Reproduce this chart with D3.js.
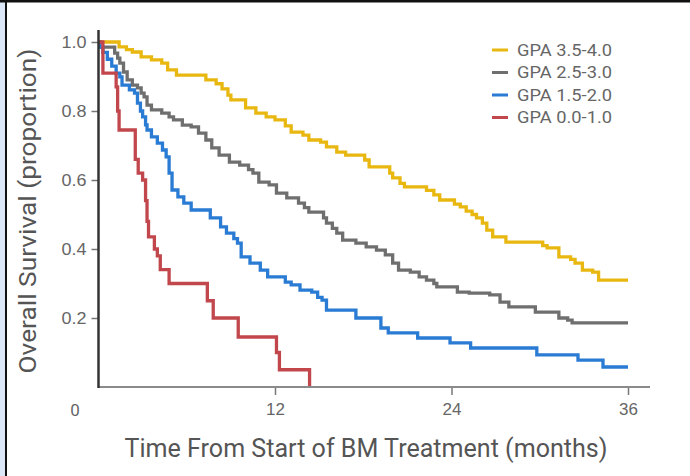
<!DOCTYPE html>
<html>
<head>
<meta charset="utf-8">
<script src="https://cdn.jsdelivr.net/npm/d3@7"></script>
<style>
  html, body { margin: 0; padding: 0; background: #fff; }
  svg { display: block; font-family: Roboto, "Liberation Sans", sans-serif; }
</style>
</head>
<body>
<div id="chart"></div>
<script>
// Kaplan-Meier curves: [month, survival after step]
const gpa35to40 = [[0,1.0],[1.4,0.986],[1.9,0.978],[2.3,0.971],[2.9,0.957],[3.6,0.948],[4.3,0.939],[4.7,0.919],[5.3,0.904],[7.3,0.89],[8.0,0.879],[8.4,0.864],[8.8,0.846],[9.0,0.832],[10.0,0.809],[10.7,0.794],[11.4,0.783],[12.0,0.774],[12.7,0.757],[13.1,0.739],[13.9,0.73],[14.3,0.716],[15.1,0.71],[15.5,0.696],[16.2,0.681],[16.8,0.672],[18.1,0.658],[18.4,0.638],[19.8,0.62],[20.0,0.606],[20.5,0.59],[20.8,0.58],[22.3,0.57],[22.8,0.557],[23.2,0.542],[24.2,0.53],[24.6,0.522],[25.0,0.51],[25.4,0.5],[25.7,0.49],[26.1,0.475],[26.4,0.455],[26.8,0.435],[27.7,0.42],[30.2,0.41],[30.5,0.403],[31.3,0.377],[32.1,0.37],[32.4,0.359],[32.9,0.339],[33.6,0.333],[34.0,0.31],[36,0.31]];
const gpa25to30 = [[0,0.985],[1.1,0.968],[1.3,0.953],[1.45,0.939],[1.7,0.913],[1.95,0.89],[2.3,0.875],[2.65,0.867],[2.9,0.852],[3.1,0.841],[3.3,0.817],[3.6,0.803],[4.3,0.794],[4.8,0.783],[5.1,0.774],[5.7,0.759],[6.3,0.754],[6.8,0.736],[7.3,0.716],[7.7,0.693],[8.2,0.672],[8.9,0.652],[9.6,0.643],[10.2,0.63],[10.5,0.62],[10.9,0.594],[11.6,0.586],[12.1,0.562],[12.8,0.548],[13.6,0.533],[14.0,0.52],[14.3,0.507],[15.3,0.49],[15.5,0.475],[15.9,0.46],[16.2,0.446],[16.6,0.426],[17.5,0.417],[18.2,0.406],[18.9,0.397],[19.5,0.383],[20.0,0.359],[20.4,0.339],[21.2,0.333],[21.8,0.319],[22.3,0.31],[22.8,0.3],[23.0,0.29],[24.4,0.275],[25.2,0.272],[26.6,0.267],[27.3,0.246],[27.9,0.232],[29.7,0.217],[31.3,0.2],[31.9,0.194],[32.2,0.186],[36,0.186]];
const gpa15to20 = [[0,1.0],[0.1,0.985],[0.3,0.97],[0.6,0.95],[0.9,0.93],[1.2,0.91],[1.45,0.899],[1.6,0.875],[2.1,0.861],[2.45,0.852],[2.65,0.823],[2.85,0.8],[3.0,0.783],[3.2,0.76],[3.3,0.745],[3.6,0.725],[4.0,0.707],[4.35,0.687],[4.6,0.667],[4.8,0.62],[5.0,0.571],[5.4,0.551],[5.8,0.533],[6.3,0.513],[7.6,0.49],[8.3,0.464],[8.7,0.446],[9.2,0.43],[9.45,0.417],[9.7,0.377],[10.3,0.359],[11.0,0.339],[11.5,0.319],[12.7,0.304],[13.1,0.296],[13.7,0.281],[14.5,0.275],[14.9,0.26],[15.2,0.252],[15.5,0.223],[17.5,0.2],[19.2,0.171],[19.7,0.157],[21.7,0.142],[23.9,0.128],[25.3,0.113],[29.8,0.093],[32.6,0.078],[34.3,0.058],[36,0.058]];
const gpa00to10 = [[0,1.0],[0.3,0.91],[1.2,0.87],[1.3,0.8],[1.4,0.745],[2.5,0.66],[2.7,0.62],[3.0,0.6],[3.2,0.54],[3.3,0.48],[3.4,0.435],[3.8,0.4],[4.0,0.38],[4.2,0.34],[4.8,0.3],[7.4,0.25],[7.8,0.2],[9.5,0.145],[12.1,0.1],[12.3,0.05],[14.35,0.0]];

const seriesNames = ['GPA 3.5-4.0', 'GPA 2.5-3.0', 'GPA 1.5-2.0', 'GPA 0.0-1.0'];
const seriesData = [gpa35to40, gpa25to30, gpa15to20, gpa00to10];
const seriesColors = ['#e8b710', '#6f6f6f', '#2a7bd3', '#c2474c'];

const xTicks = [12, 24, 36];
const yTicks = [0.2, 0.4, 0.6, 0.8, 1.0];

const width = 690, height = 476;
const svg = d3.select('#chart').append('svg').attr('width', width).attr('height', height);

// frame
svg.append('rect').attr('x', 0).attr('y', 0).attr('width', 5).attr('height', height).attr('fill', '#dbe6f6');
svg.append('rect').attr('x', 5).attr('y', 0).attr('width', 2).attr('height', height).attr('fill', '#111');
svg.append('rect').attr('x', 0).attr('y', 0).attr('width', width).attr('height', 2.5).attr('fill', '#111');

const x = d3.scaleLinear().domain([0, 36]).range([98.5, 628]);
const y = d3.scaleLinear().domain([0, 1]).range([387, 42]);

// curves
const line = d3.line().x(d => x(d[0])).y(d => y(d[1])).curve(d3.curveStepAfter);
svg.selectAll('.km').data(seriesData).enter().append('path')
  .attr('class', 'km')
  .attr('d', line)
  .attr('fill', 'none')
  .attr('stroke', (d, i) => seriesColors[i])
  .attr('stroke-width', 3.3)
  .attr('stroke-linejoin', 'miter');

// x axis
const xAxis = d3.axisBottom(x).tickValues(xTicks).tickSize(8).tickSizeOuter(0).tickPadding(8);
const xg = svg.append('g').attr('transform', 'translate(0,387)').call(xAxis);
xg.select('.domain').remove();
xg.selectAll('.tick line').attr('stroke', '#777').attr('stroke-width', 1.5);
xg.selectAll('.tick text').attr('fill', '#666').style('font-size', '17px');
svg.append('line').attr('x1', x(0)).attr('x2', 650).attr('y1', 387).attr('y2', 387)
  .attr('stroke', '#8a8a8a').attr('stroke-width', 2);
svg.append('text').attr('x', 75).attr('y', 416).attr('text-anchor', 'middle')
  .attr('fill', '#666').style('font-size', '17px').text('0');

// y axis
const yAxis = d3.axisLeft(y).tickValues(yTicks).tickFormat(d3.format('.1f')).tickSize(7).tickSizeOuter(0).tickPadding(5);
const yg = svg.append('g').attr('transform', `translate(${x(0)},0)`).call(yAxis);
yg.select('.domain').remove();
yg.selectAll('.tick line').attr('stroke', '#777').attr('stroke-width', 1.5);
yg.selectAll('.tick text').attr('fill', '#666').style('font-size', '17px')
  .attr('textLength', 25).attr('lengthAdjust', 'spacingAndGlyphs');
svg.append('line').attr('x1', x(0)).attr('x2', x(0)).attr('y1', 30).attr('y2', 388)
  .attr('stroke', '#333').attr('stroke-width', 2.5);

// axis titles
svg.append('text').attr('x', 366).attr('y', 457).attr('text-anchor', 'middle')
  .attr('fill', '#555').style('font-size', '25px')
  .attr('textLength', 483).attr('lengthAdjust', 'spacingAndGlyphs')
  .text('Time From Start of BM Treatment (months)');
svg.append('text').attr('transform', 'translate(36,211) rotate(-90)').attr('text-anchor', 'middle')
  .attr('fill', '#555').style('font-size', '23px')
  .attr('textLength', 325).attr('lengthAdjust', 'spacingAndGlyphs')
  .text('Overall Survival (proportion)');

// legend
const legend = svg.append('g').attr('transform', 'translate(492,50)');
const rows = legend.selectAll('g').data(seriesNames).enter().append('g')
  .attr('transform', (d, i) => `translate(0,${i * 22.5})`);
rows.append('line').attr('x1', 0).attr('x2', 16).attr('y1', 0).attr('y2', 0)
  .attr('stroke', (d, i) => seriesColors[i]).attr('stroke-width', 3);
rows.append('text').attr('x', 25).attr('y', 5.5).attr('fill', '#666')
  .style('font-size', '16px')
  .attr('textLength', 95).attr('lengthAdjust', 'spacingAndGlyphs')
  .text(d => d);
</script>
</body>
</html>
